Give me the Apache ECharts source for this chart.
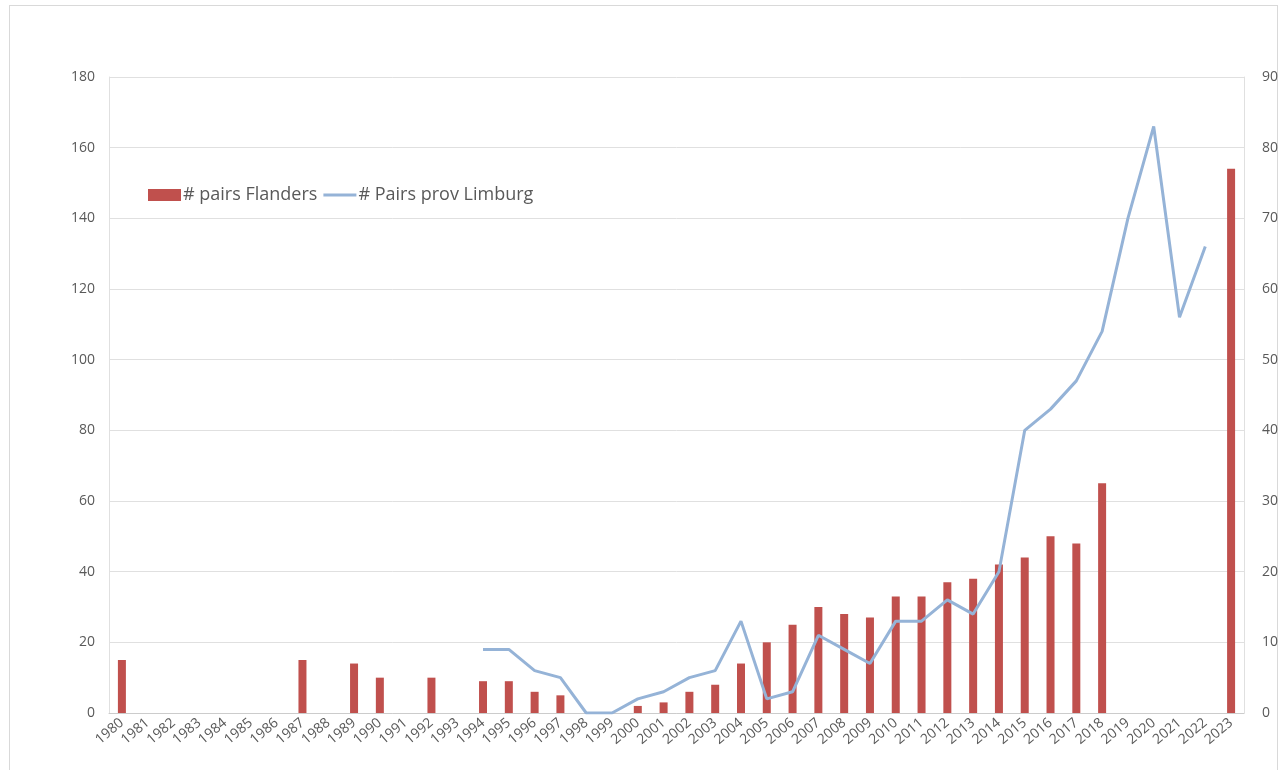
<!DOCTYPE html>
<html>
<head>
<meta charset="utf-8">
<title># pairs Flanders / # Pairs prov Limburg</title>
<script src="https://cdn.jsdelivr.net/npm/echarts@6/dist/echarts.min.js"></script>
<style>
  html, body { margin: 0; padding: 0; background: #ffffff; }
  #frame { position: absolute; left: 9px; top: 5px; width: 1269px; height: 780px; border: 1px solid #d9d9d9; box-sizing: border-box; }
  #chart { position: absolute; left: 0; top: 0; width: 1281px; height: 770px; }
</style>
</head>
<body>
<div id="frame"></div>
<div id="chart"></div>
<script>
// Years on the category axis
const years = [];
for (let y = 1980; y <= 2023; y++) years.push(String(y));

// Breeding pairs in Flanders (left axis); null = no count
const pairsFlanders = [
  15, null, null, null, null, null, null, 15, null, 14,
  10, null, 10, null, 9, 9, 6, 5, null, null,
  2, 3, 6, 8, 14, 20, 25, 30, 28, 27,
  33, 33, 37, 38, 42, 44, 50, 48, 65, null,
  null, null, null, 154
];

// Breeding pairs in the province of Limburg (right axis)
const pairsLimburg = [
  null, null, null, null, null, null, null, null, null, null,
  null, null, null, null, 9, 9, 6, 5, 0, 0,
  2, 3, 5, 6, 13, 2, 3, 11, 9, 7,
  13, 13, 16, 14, 20, 40, 43, 47, 54, 70,
  83, 56, 66, null
];

// Axis tick ranges
const leftAxis = { min: 0, max: 180, interval: 20 };
const rightAxis = { min: 0, max: 90, interval: 10 };

const chart = echarts.init(document.getElementById('chart'), null, { renderer: 'canvas' });

const labelColor = '#595959';
const fontFamily = '"Open Sans", "Noto Sans", sans-serif';
const lineColor = '#95b3d7';

chart.setOption({
  animation: false,
  backgroundColor: 'transparent',
  grid: { left: 109, right: 37, top: 77, bottom: 57, containLabel: false },
  legend: {
    left: 143,
    top: 181,
    itemGap: 6,
    itemWidth: 33,
    itemHeight: 12,
    textStyle: { color: labelColor, fontSize: 18, fontFamily: fontFamily, padding: [0, 0, 0, -3] },
    data: [
      { name: '# pairs Flanders', icon: 'rect' },
      { name: '# Pairs prov Limburg', icon: 'path://M0,0H33V3H0Z', itemStyle: { color: lineColor } }
    ]
  },
  xAxis: {
    type: 'category',
    data: years,
    boundaryGap: true,
    axisLine: { show: true, lineStyle: { color: '#cccccc', width: 1 } },
    axisTick: { show: false },
    axisLabel: {
      interval: 0,
      rotate: 40,
      margin: 8,
      color: labelColor,
      fontSize: 14,
      fontFamily: fontFamily
    },
    splitLine: { show: false }
  },
  yAxis: [
    {
      type: 'value',
      min: leftAxis.min,
      max: leftAxis.max,
      interval: leftAxis.interval,
      position: 'left',
      axisLine: { show: true, lineStyle: { color: '#e0e0e0' } },
      axisTick: { show: false },
      axisLabel: { color: labelColor, fontSize: 14, margin: 14, fontFamily: fontFamily },
      splitLine: { show: true, lineStyle: { color: '#e0e0e0', width: 1 } }
    },
    {
      type: 'value',
      min: rightAxis.min,
      max: rightAxis.max,
      interval: rightAxis.interval,
      position: 'right',
      axisLine: { show: true, lineStyle: { color: '#e0e0e0' } },
      axisTick: { show: false },
      axisLabel: { color: labelColor, fontSize: 14, margin: 18, fontFamily: fontFamily },
      splitLine: { show: false }
    }
  ],
  series: [
    {
      name: '# pairs Flanders',
      type: 'bar',
      yAxisIndex: 0,
      data: pairsFlanders,
      barWidth: 8,
      itemStyle: { color: '#c0504d' }
    },
    {
      name: '# Pairs prov Limburg',
      type: 'line',
      yAxisIndex: 1,
      data: pairsLimburg,
      connectNulls: false,
      showSymbol: false,
      symbol: 'none',
      lineStyle: { color: lineColor, width: 3 },
      itemStyle: { color: lineColor }
    }
  ]
});
</script>
</body>
</html>
